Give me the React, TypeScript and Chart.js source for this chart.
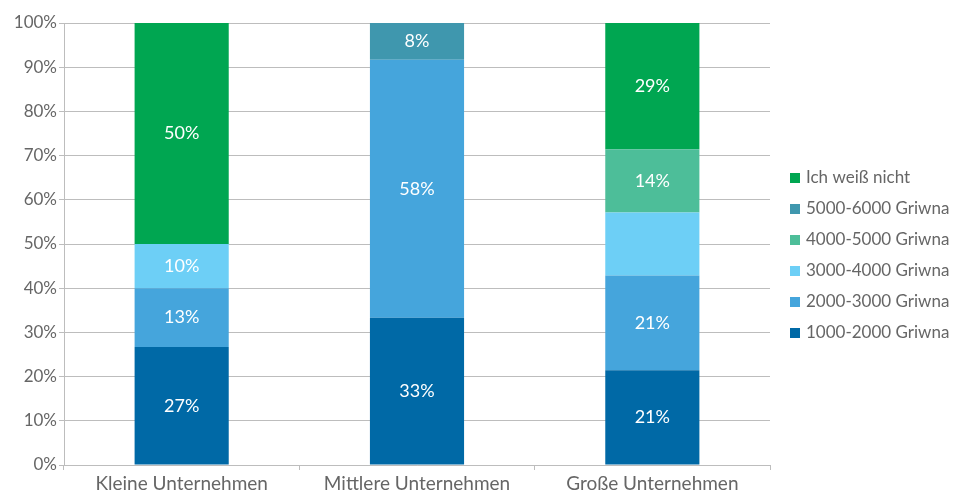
import React, { useEffect, useRef } from "react";
import { Chart, registerables } from "chart.js";
Chart.register(...registerables);

const categories = ["Kleine Unternehmen", "Mittlere Unternehmen", "Große Unternehmen"];
const seriesNames = [
  "1000-2000 Griwna",
  "2000-3000 Griwna",
  "3000-4000 Griwna",
  "4000-5000 Griwna",
  "5000-6000 Griwna",
  "Ich weiß nicht",
];
const v1000_2000 = [26.67, 33.33, 21.43];
const v2000_3000 = [13.33, 58.33, 21.43];
const v3000_4000 = [10.0, 0, 14.29];
const v4000_5000 = [0, 0, 14.29];
const v5000_6000 = [0, 8.33, 0];
const vWeissNicht = [50.0, 0, 28.57];

const l1000_2000 = ["27%", "33%", "21%"];
const l2000_3000 = ["13%", "58%", "21%"];
const l3000_4000 = ["10%", "", ""];
const l4000_5000 = ["", "", "14%"];
const l5000_6000 = ["", "8%", ""];
const lWeissNicht = ["50%", "", "29%"];

const yTicks = [0, 10, 20, 30, 40, 50, 60, 70, 80, 90, 100];

const seriesValues = [v1000_2000, v2000_3000, v3000_4000, v4000_5000, v5000_6000, vWeissNicht];
const seriesLabels = [l1000_2000, l2000_3000, l3000_4000, l4000_5000, l5000_6000, lWeissNicht];
const colors = ["#0069a6", "#45a5dc", "#6dcff6", "#4dbe99", "#3f97ae", "#00a651"];

const FONT = "Lato, 'Open Sans', sans-serif";
const TEXT = "#666666";
const GRID = "#bdbdbd";

const labelPlugin = {
  id: "segLabels",
  afterDatasetsDraw(chart: any) {
    const ctx = chart.ctx;
    ctx.save();
    ctx.fillStyle = "#ffffff";
    ctx.font = `18px ${FONT}`;
    ctx.textAlign = "center";
    ctx.textBaseline = "middle";
    chart.data.datasets.forEach((ds: any, di: number) => {
      const meta = chart.getDatasetMeta(di);
      meta.data.forEach((el: any, i: number) => {
        const txt = ds.segLabels[i];
        if (!txt || !ds.data[i]) return;
        ctx.fillText(txt, el.x, (el.y + el.base) / 2);
      });
    });
    ctx.restore();
  },
};

const legendPlugin = {
  id: "sideLegend",
  afterDraw(chart: any) {
    const ctx = chart.ctx;
    const ds = chart.data.datasets;
    const n = ds.length;
    const gap = 31;
    const x0 = chart.chartArea.right + 20;
    const y0 = chart.height / 2 + 7.5 - ((n - 1) * gap) / 2;
    ctx.save();
    ctx.font = `17px ${FONT}`;
    ctx.textBaseline = "middle";
    ctx.textAlign = "left";
    for (let k = 0; k < n; k++) {
      const d = ds[n - 1 - k];
      const y = y0 + k * gap;
      ctx.fillStyle = d.backgroundColor;
      ctx.fillRect(x0, y - 5, 10, 10);
      ctx.fillStyle = TEXT;
      ctx.fillText(d.label, x0 + 16, y);
    }
    ctx.restore();
  },
};

export default function App() {
  const ref = useRef<HTMLCanvasElement>(null);
  useEffect(() => {
    if (!ref.current) return;
    const chart = new Chart(ref.current, {
      type: "bar",
      data: {
        labels: categories,
        datasets: seriesNames.map((name, i) => ({
          label: name,
          data: seriesValues[i],
          backgroundColor: colors[i],
          segLabels: seriesLabels[i],
          borderWidth: 0,
          barPercentage: 0.4,
          categoryPercentage: 1,
        })) as any,
      },
      options: {
        responsive: false,
        animation: false,
        layout: { padding: { top: 23, right: 190, left: 0, bottom: 0 } },
        plugins: { legend: { display: false }, tooltip: { enabled: false } },
        scales: {
          x: {
            stacked: true,
            grid: { offset: true, drawOnChartArea: false, tickLength: 5, color: GRID },
            border: { color: GRID },
            ticks: { color: TEXT, font: { family: FONT, size: 19 }, padding: 2, maxRotation: 0 },
            afterFit: (s: any) => { s.height = 31; },
          },
          y: {
            stacked: true,
            min: 0,
            max: 100,
            afterBuildTicks: (s: any) => { s.ticks = yTicks.map((v) => ({ value: v })); },
            grid: { color: GRID, tickLength: 5 },
            border: { color: GRID },
            ticks: {
              color: TEXT,
              font: { family: FONT, size: 17 },
              padding: 2,
              callback: (v: any) => v + "%",
            },
            afterFit: (s: any) => { s.width = 64; },
          },
        },
      },
      plugins: [labelPlugin, legendPlugin],
    });
    return () => chart.destroy();
  }, []);
  return (
    <div style={{ position: "fixed", left: 0, top: 0, width: 960, height: 496, background: "#fff" }}>
      <canvas ref={ref} width={960} height={496} />
    </div>
  );
}
